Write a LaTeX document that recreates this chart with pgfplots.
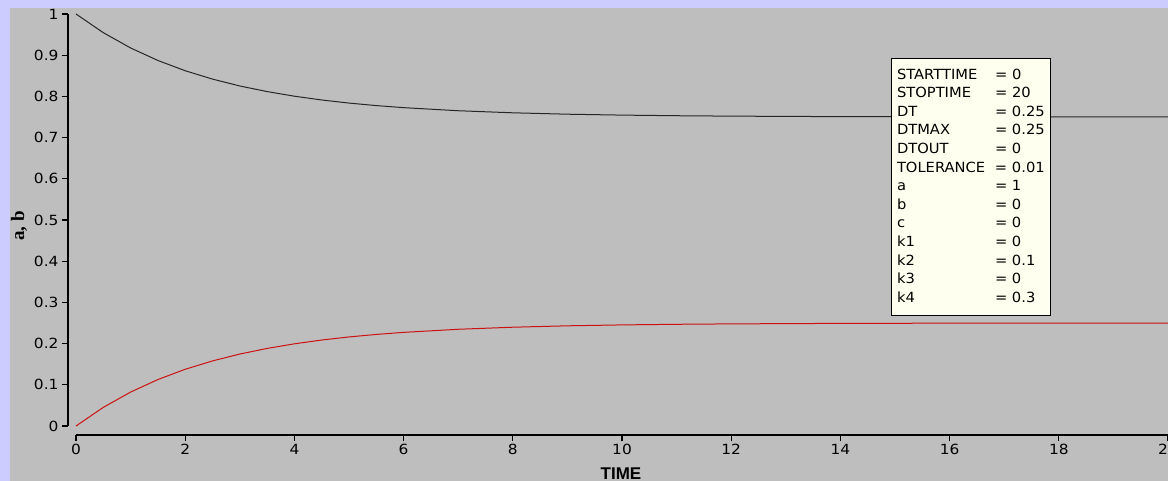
\documentclass[border=0pt]{standalone}
\usepackage{pgfplots}
\pgfplotsset{compat=1.18}
\usepackage{fontspec}
\setmainfont{DejaVu Sans}
\newfontfamily\boxfont[FakeStretch=1.05]{DejaVu Sans}
\newfontfamily\tickfont[FakeStretch=1.1]{DejaVu Sans}
\newfontfamily\labfont{Liberation Sans}
\newfontfamily\seriffont{Liberation Serif}
\definecolor{lav}{HTML}{CCCCFF}
\definecolor{panel}{HTML}{BEBEBE}
\definecolor{note}{HTML}{FFFFF0}
\definecolor{curvered}{HTML}{CC1111}
\begin{document}
\begin{tikzpicture}[x=1pt,y=1pt]
\begin{scope}
\clip (0,0) rectangle (1168,-481);
\fill[lav] (0,0) rectangle (1168,-481);
\fill[panel] (10,-8) rectangle (1168,-481);
\begin{axis}[
 scale only axis, width=1100pt, height=421pt,
 at={(68pt,-435pt)}, anchor=south west,
 xmin=-0.1465, xmax=20, ymin=-0.0218, ymax=1,
 axis x line=bottom, axis y line=left,
 axis line style={draw=none},
 clip=false,
 xtick={0,2,4,6,8,10,12,14,16,18,20},
 ytick={0,0.1,0.2,0.3,0.4,0.5,0.6,0.7,0.8,0.9,1},
 tick align=outside, major tick length=6pt,
 tick style={black, line width=1.2pt},
 ticklabel style={font=\tickfont\fontsize{14}{14}\selectfont, text=black},
 /pgf/number format/assume math mode=true,
 yticklabel style={/pgf/number format/fixed},
 minor tick num=0,
]
\addplot[black!85, line width=1pt] coordinates {
(0,1.0) (0.5,0.9547) (1,0.9176) (1.5,0.8872) (2,0.8623) (2.5,0.8420)
(3,0.8253) (3.5,0.8117) (4,0.8005) (4.5,0.7913) (5,0.7838) (5.5,0.7777)
(6,0.7727) (7,0.7652) (8,0.7602) (9,0.7568) (10,0.7546) (11,0.7531)
(12,0.7521) (14,0.7509) (16,0.7504) (18,0.7502) (20,0.7501)};
\addplot[curvered, line width=1pt] coordinates {
(0,0.0) (0.5,0.0453) (1,0.0824) (1.5,0.1128) (2,0.1377) (2.5,0.1580)
(3,0.1747) (3.5,0.1883) (4,0.1995) (4.5,0.2087) (5,0.2162) (5.5,0.2223)
(6,0.2273) (7,0.2348) (8,0.2398) (9,0.2432) (10,0.2454) (11,0.2469)
(12,0.2479) (14,0.2491) (16,0.2496) (18,0.2498) (20,0.2499)};
\draw[black, line width=1.5pt] (axis cs:-0.1465,0) -- (axis cs:-0.1465,1);
\draw[black, line width=1.5pt] (axis cs:0,-0.0218) -- (axis cs:20,-0.0218);
\end{axis}
\node[anchor=north west, draw=black, line width=1pt, fill=note,
  inner xsep=5.5pt, inner ysep=0pt, minimum width=154pt, minimum height=257pt, text=black]
  at (891,-58) {\boxfont\fontsize{14}{18.6}\selectfont
  \begin{tabular}{@{}p{98pt}@{}l@{}}
  STARTTIME & = 0\\
  STOPTIME & = 20\\
  DT & = 0.25\\
  DTMAX & = 0.25\\
  DTOUT & = 0\\
  TOLERANCE & = 0.01\\
  a & = 1\\
  b & = 0\\
  c & = 0\\
  k1 & = 0\\
  k2 & = 0.1\\
  k3 & = 0\\
  k4 & = 0.3
  \end{tabular}};
\node[anchor=base, font=\labfont\bfseries\fontsize{17}{17}\selectfont] at (621,-479.5) {TIME};
\node[rotate=90, font=\seriffont\bfseries\fontsize{19}{19}\selectfont] at (19,-226) {a, b};
\end{scope}
\pgfresetboundingbox
\path (0,0) rectangle (1168,-481);
\end{tikzpicture}
\end{document}
